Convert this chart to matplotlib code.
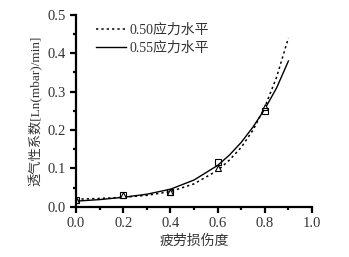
import matplotlib
matplotlib.use("Agg")
import matplotlib.pyplot as plt
from matplotlib.ticker import MultipleLocator

# %% Style
TEXT_COLOR = "#333333"
plt.rcParams.update(
    {
        "font.family": ["Liberation Serif", "Noto Sans CJK SC"],
        "font.size": 10,
        "axes.linewidth": 1.6,
        "xtick.direction": "out",
        "ytick.direction": "out",
        "xtick.major.size": 4,
        "ytick.major.size": 4,
        "xtick.minor.size": 2,
        "ytick.minor.size": 2,
        "xtick.major.width": 1.6,
        "ytick.major.width": 1.6,
        "xtick.minor.width": 1.6,
        "ytick.minor.width": 1.6,
        "xtick.labelsize": 10.5,
        "ytick.labelsize": 10.5,
        "xtick.labelcolor": TEXT_COLOR,
        "ytick.labelcolor": TEXT_COLOR,
    }
)

# %% Data
damage = [0.0, 0.2, 0.4, 0.6, 0.8]
perm_050 = [0.018, 0.030, 0.040, 0.100, 0.260]
perm_055 = [0.018, 0.030, 0.039, 0.117, 0.250]

# fitted curves
fit_x = [0.0, 0.1, 0.2, 0.3, 0.4, 0.5, 0.6, 0.65, 0.7, 0.75, 0.8, 0.85, 0.9]
fit_050 = [0.020, 0.022, 0.025, 0.030, 0.040, 0.060, 0.095, 0.122, 0.155, 0.200, 0.260, 0.338, 0.440]
fit_055 = [0.015, 0.019, 0.025, 0.033, 0.046, 0.070, 0.108, 0.135, 0.168, 0.208, 0.255, 0.310, 0.380]

labels = ["0.50应力水平", "0.55应力水平"]

# %% Plot
fig = plt.figure(figsize=(3.49, 2.57), dpi=100)
ax = fig.add_axes([0.218, 0.195, 0.676, 0.747])

ax.plot(fit_x, fit_050, color="black", linestyle=(0, (1.5, 2)), linewidth=1.1, label=labels[0])
ax.plot(fit_x, fit_055, color="black", linestyle="-", linewidth=1.0, label=labels[1])
ax.plot(damage, perm_050, linestyle="none", marker="^", markersize=5,
        markerfacecolor="white", markeredgecolor="black", markeredgewidth=0.8)
ax.plot(damage, perm_055, linestyle="none", marker="s", markersize=5,
        markerfacecolor="none", markeredgecolor="black", markeredgewidth=0.8)

ax.set_xlim(0, 1.0)
ax.set_ylim(0, 0.5)
ax.xaxis.set_major_locator(MultipleLocator(0.2))
ax.xaxis.set_minor_locator(MultipleLocator(0.1))
ax.yaxis.set_major_locator(MultipleLocator(0.1))
ax.yaxis.set_minor_locator(MultipleLocator(0.05))
ax.xaxis.set_major_formatter("{x:.1f}")
ax.yaxis.set_major_formatter("{x:.1f}")
ax.spines["top"].set_visible(False)
ax.spines["right"].set_visible(False)

ax.set_xlabel("疲劳损伤度", fontsize=10, color=TEXT_COLOR, labelpad=3)
ax.set_ylabel("透气性系数[Ln(mbar)/min]", fontsize=9.5, color=TEXT_COLOR, labelpad=3)

leg = ax.legend(loc="upper left", bbox_to_anchor=(0.03, 1.02), frameon=False,
                handlelength=2.2, handletextpad=0.25, labelspacing=0.35, fontsize=10)
for t in leg.get_texts():
    t.set_color(TEXT_COLOR)

fig.savefig("out.png", dpi=100)
